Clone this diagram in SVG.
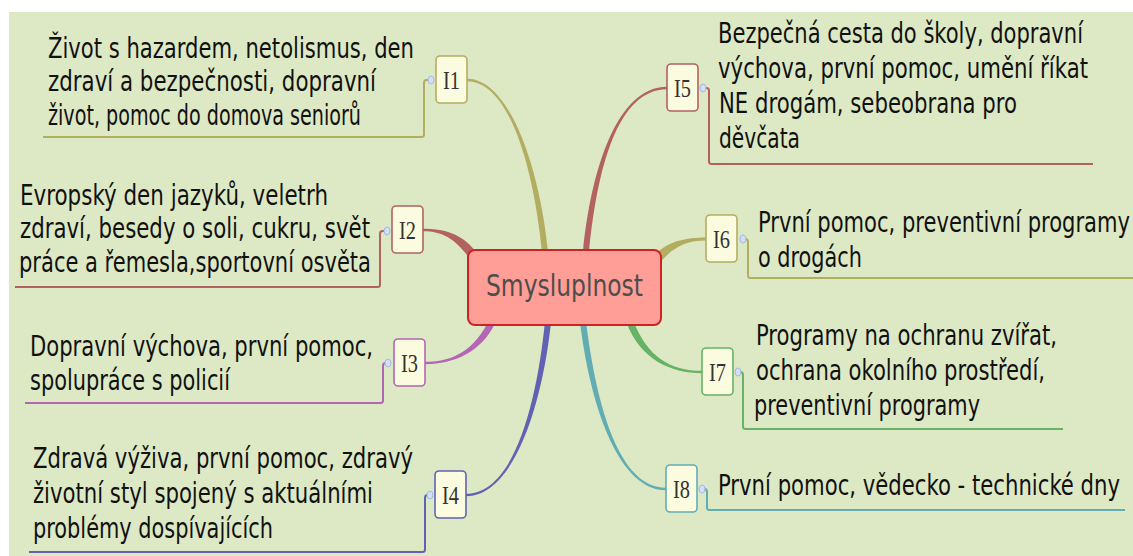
<svg xmlns="http://www.w3.org/2000/svg" width="1133" height="556" viewBox="0 0 1133 556">
  <defs>
    <style>
      .txt { font-family: "DejaVu Sans Condensed", "DejaVu Sans", sans-serif; font-stretch: condensed; font-size: 29px; fill: #111; }
      .lbl { font-family: "Liberation Serif", "DejaVu Serif", serif; font-size: 26px; fill: #333; text-anchor: middle; }
      .root { font-family: "DejaVu Sans Condensed", "DejaVu Sans", sans-serif; font-stretch: condensed; font-size: 31px; fill: #4d4d4d; }
      .box { fill: #fbfbe0; stroke-width: 1.6; }
      .knob { fill: #d3dff6; stroke: #a4b8e2; stroke-width: 1; }
      .elbow { fill: none; stroke-width: 2; }
      .olive { stroke: #b3ad62; }
      .brown { stroke: #b36262; }
      .purple { stroke: #b366b3; }
      .blue { stroke: #6262b3; }
      .green { stroke: #66b366; }
      .teal { stroke: #62adb3; }
    </style>
  </defs>

  <!-- canvas -->
  <rect x="9" y="12" width="1124" height="544" fill="#dde9c4"/>

  <!-- tapered branches from the central topic -->
  <g id="connectors" stroke="none">
    <path fill="#b3ad62" d="M467,81.2 C510,81.2 534,170.3 542,252.3 L548,251.7 C540,169.7 510,78.8 467,78.8 Z"/>
    <path fill="#b36262" d="M423,231.3 C443,231.3 454.5,238.9 468.5,256.9 L475.5,251.1 C461.5,233.1 443,228.7 423,228.7 Z"/>
    <path fill="#b366b3" d="M425,364.2 C455,364.2 481.1,351.6 495.1,323.6 L488.9,320.4 C474.9,348.4 455,361.8 425,361.8 Z"/>
    <path fill="#6262b3" d="M466,496.2 C515,496.2 543,400.3 551,322.3 L545,321.7 C537,399.7 515,493.8 466,493.8 Z"/>
    <path fill="#b36262" d="M667,86.8 C617,86.8 591,169.7 583,251.7 L589,252.3 C597,170.3 617,89.2 667,89.2 Z"/>
    <path fill="#b3ad62" d="M706,237.4 C686,237.4 666.6,241 652.6,257 L659.4,263 C673.4,247 686,240.6 706,240.6 Z"/>
    <path fill="#66b366" d="M702,370.8 C670,370.8 647.3,356.7 633.3,320.7 L626.7,323.3 C640.7,359.3 670,373.2 702,373.2 Z"/>
    <path fill="#62adb3" d="M666,487.8 C620,487.8 597,409.6 586,321.6 L580,322.4 C591,410.4 620,490.2 666,490.2 Z"/>
  </g>

  <!-- central topic -->
  <g id="root">
    <rect x="468" y="250" width="193" height="75" rx="7" fill="#ff9e96" stroke="#cc2424" stroke-width="2"/>
    <text class="root" x="486" y="296" textLength="157" lengthAdjust="spacingAndGlyphs">Smysluplnost</text>
  </g>

  <!-- I1 -->
  <g id="I1">
    <path class="elbow olive" d="M428,80 L426.5,80 Q424,80 424,83 L424,134.5 Q424,137 421.5,137 L43,137"/>
    <ellipse class="knob" cx="431" cy="80" rx="3" ry="4"/>
    <rect class="box olive" x="436" y="56" width="31" height="47" rx="4"/>
    <text class="lbl" x="451.5" y="89" textLength="17" lengthAdjust="spacingAndGlyphs">I1</text>
    <text class="txt" x="48" y="58" textLength="366" lengthAdjust="spacingAndGlyphs">Život s hazardem, netolismus, den</text>
    <text class="txt" x="48" y="91" textLength="328" lengthAdjust="spacingAndGlyphs">zdraví a bezpečnosti, dopravní</text>
    <text class="txt" x="48" y="125" textLength="313" lengthAdjust="spacingAndGlyphs">život, pomoc do domova seniorů</text>
  </g>

  <!-- I2 -->
  <g id="I2">
    <path class="elbow brown" d="M384,231 L382.5,231 Q380,231 380,234 L380,284.5 Q380,287 377.5,287 L15,287"/>
    <ellipse class="knob" cx="387" cy="231" rx="3" ry="4"/>
    <rect class="box brown" x="392" y="206" width="31" height="47" rx="4"/>
    <text class="lbl" x="407.5" y="239" textLength="17" lengthAdjust="spacingAndGlyphs">I2</text>
    <text class="txt" x="20" y="205" textLength="308" lengthAdjust="spacingAndGlyphs">Evropský den jazyků, veletrh</text>
    <text class="txt" x="20" y="238" textLength="350" lengthAdjust="spacingAndGlyphs">zdraví, besedy o soli, cukru, svět</text>
    <text class="txt" x="19" y="272" textLength="352" lengthAdjust="spacingAndGlyphs">práce a řemesla,sportovní osvěta</text>
  </g>

  <!-- I3 -->
  <g id="I3">
    <path class="elbow purple" d="M385,363 L385.5,363 Q383,363 383,366 L383,400.5 Q383,403 380.5,403 L25,403"/>
    <ellipse class="knob" cx="388" cy="363" rx="3" ry="4"/>
    <rect class="box purple" x="394" y="339" width="31" height="47" rx="4"/>
    <text class="lbl" x="409.5" y="372" textLength="17" lengthAdjust="spacingAndGlyphs">I3</text>
    <text class="txt" x="30" y="356" textLength="343" lengthAdjust="spacingAndGlyphs">Dopravní výchova, první pomoc,</text>
    <text class="txt" x="30" y="390" textLength="200" lengthAdjust="spacingAndGlyphs">spolupráce s policií</text>
  </g>

  <!-- I4 -->
  <g id="I4">
    <path class="elbow blue" d="M427,495 L427.5,495 Q425,495 425,498 L425,549.5 Q425,552 422.5,552 L29,552"/>
    <ellipse class="knob" cx="430" cy="495" rx="3" ry="4"/>
    <rect class="box blue" x="435" y="471" width="31" height="47" rx="4"/>
    <text class="lbl" x="450.5" y="504" textLength="17" lengthAdjust="spacingAndGlyphs">I4</text>
    <text class="txt" x="33" y="468" textLength="380" lengthAdjust="spacingAndGlyphs">Zdravá výživa, první pomoc, zdravý</text>
    <text class="txt" x="33" y="503" textLength="340" lengthAdjust="spacingAndGlyphs">životní styl spojený s aktuálními</text>
    <text class="txt" x="33" y="538" textLength="240" lengthAdjust="spacingAndGlyphs">problémy dospívajících</text>
  </g>

  <!-- I5 -->
  <g id="I5">
    <path class="elbow brown" d="M706,88 L706.5,88 Q709,88 709,91 L709,161.5 Q709,164 711.5,164 L1093,164"/>
    <ellipse class="knob" cx="703" cy="88" rx="3" ry="4"/>
    <rect class="box brown" x="667" y="64" width="31" height="47" rx="4"/>
    <text class="lbl" x="682.5" y="97" textLength="17" lengthAdjust="spacingAndGlyphs">I5</text>
    <text class="txt" x="718" y="43" textLength="365" lengthAdjust="spacingAndGlyphs">Bezpečná cesta do školy, dopravní</text>
    <text class="txt" x="718" y="78" textLength="370" lengthAdjust="spacingAndGlyphs">výchova, první pomoc, umění říkat</text>
    <text class="txt" x="719" y="113" textLength="298" lengthAdjust="spacingAndGlyphs">NE drogám, sebeobrana pro</text>
    <text class="txt" x="719" y="148" textLength="81" lengthAdjust="spacingAndGlyphs">děvčata</text>
  </g>

  <!-- I6 -->
  <g id="I6">
    <path class="elbow olive" d="M745,239 L745.5,239 Q748,239 748,242 L748,275.5 Q748,278 750.5,278 L1133,278"/>
    <ellipse class="knob" cx="743" cy="239" rx="3" ry="4"/>
    <rect class="box olive" x="706" y="215" width="31" height="47" rx="4"/>
    <text class="lbl" x="721.5" y="248" textLength="17" lengthAdjust="spacingAndGlyphs">I6</text>
    <text class="txt" x="758" y="232" textLength="372" lengthAdjust="spacingAndGlyphs">První pomoc, preventivní programy</text>
    <text class="txt" x="758" y="267" textLength="104" lengthAdjust="spacingAndGlyphs">o drogách</text>
  </g>

  <!-- I7 -->
  <g id="I7">
    <path class="elbow green" d="M740,372 L740.5,372 Q743,372 743,375 L743,426.5 Q743,429 745.5,429 L1063,429"/>
    <ellipse class="knob" cx="738" cy="372" rx="3" ry="4"/>
    <rect class="box green" x="702" y="348" width="31" height="47" rx="4"/>
    <text class="lbl" x="717.5" y="381" textLength="17" lengthAdjust="spacingAndGlyphs">I7</text>
    <text class="txt" x="756" y="345" textLength="301" lengthAdjust="spacingAndGlyphs">Programy na ochranu zvířat,</text>
    <text class="txt" x="756" y="380" textLength="289" lengthAdjust="spacingAndGlyphs">ochrana okolního prostředí,</text>
    <text class="txt" x="754" y="415" textLength="226" lengthAdjust="spacingAndGlyphs">preventivní programy</text>
  </g>

  <!-- I8 -->
  <g id="I8">
    <path class="elbow teal" d="M704,489 L704.5,489 Q707,489 707,492 L707,507.5 Q707,510 709.5,510 L1125,510"/>
    <ellipse class="knob" cx="702" cy="489" rx="3" ry="4"/>
    <rect class="box teal" x="666" y="465" width="31" height="47" rx="4"/>
    <text class="lbl" x="681.5" y="498" textLength="17" lengthAdjust="spacingAndGlyphs">I8</text>
    <text class="txt" x="718" y="495" textLength="402" lengthAdjust="spacingAndGlyphs">První pomoc, vědecko - technické dny</text>
  </g>
</svg>
